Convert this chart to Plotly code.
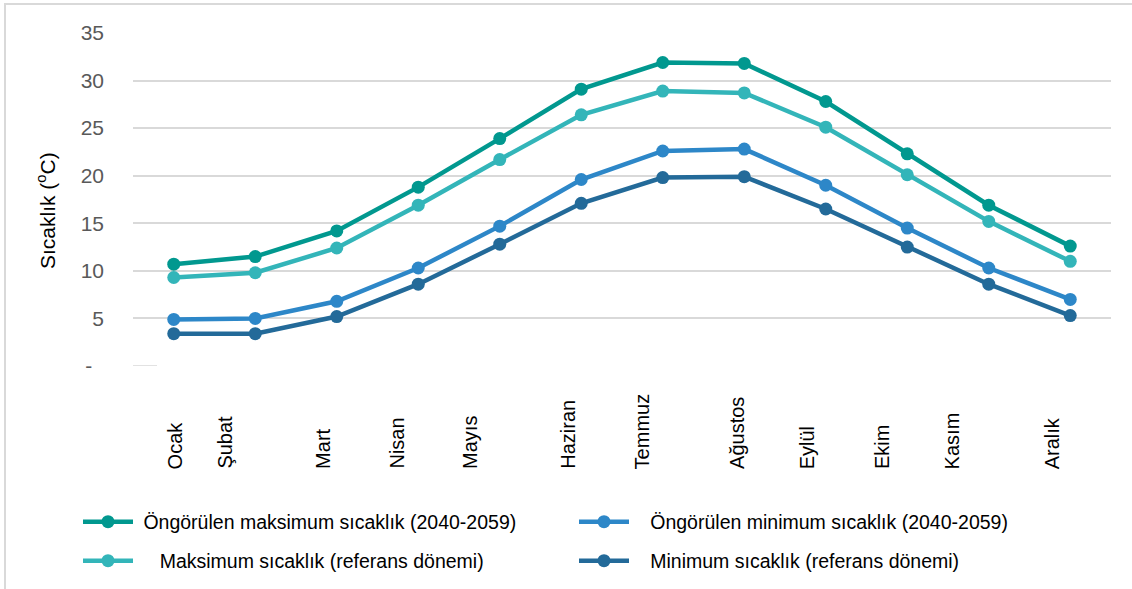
import plotly.graph_objects as go

# Monthly mean temperatures (°C)
months = ["Ocak", "Şubat", "Mart", "Nisan", "Mayıs", "Haziran",
          "Temmuz", "Ağustos", "Eylül", "Ekim", "Kasım", "Aralık"]

proj_max = [10.7, 11.5, 14.2, 18.8, 23.9, 29.1, 31.9, 31.8, 27.8, 22.3, 16.9, 12.6]
proj_min = [4.9, 5.0, 6.8, 10.3, 14.7, 19.6, 22.6, 22.8, 19.0, 14.5, 10.3, 7.0]
ref_max = [9.3, 9.8, 12.4, 16.9, 21.7, 26.4, 28.9, 28.7, 25.1, 20.1, 15.2, 11.0]
ref_min = [3.4, 3.4, 5.2, 8.6, 12.8, 17.1, 19.8, 19.9, 16.5, 12.5, 8.6, 5.3]

series_names = [
    "Öngörülen maksimum sıcaklık (2040-2059)",
    "Öngörülen minimum sıcaklık (2040-2059)",
    "Maksimum sıcaklık (referans dönemi)",
    "Minimum sıcaklık (referans dönemi)",
]
series_values = [proj_max, proj_min, ref_max, ref_min]
series_colors = ["#01988f", "#2d87c8", "#33b5b9", "#236a99"]

y_ticks = [0, 5, 10, 15, 20, 25, 30, 35]
y_tick_text = ["-\u00a0\u00a0", "5", "10", "15", "20", "25", "30", "35"]

# hand-placed month label positions along the x axis (month index units)
month_label_x = [1.02, 1.63, 2.83, 3.74, 4.64, 5.84, 6.75, 7.91, 8.78, 9.69, 10.56, 11.78]

FONT = "Liberation Sans, Arial, sans-serif"
x_idx = list(range(1, len(months) + 1))

# legend entries: left edge / centre (px), and extra gap before the text
legend_ids = ["legend", "legend2", "legend3", "legend4"]
legend_pos = [(78, 522), (574, 522), (78, 561), (574, 561)]
legend_pad = [1, 3, 4, 3]

fig = go.Figure()
for name, vals, col, lg, pad in zip(series_names, series_values, series_colors,
                                    legend_ids, legend_pad):
    fig.add_trace(go.Scatter(
        x=x_idx, y=vals, name="\u00a0" * pad + name, mode="lines+markers",
        line=dict(color=col, width=4.5),
        marker=dict(color=col, size=13),
        legend=lg, showlegend=True,
    ))

W, H = 1132, 589
L, R, T, B = 133, 21, 33, 223
pw, ph = W - L - R, H - T - B


def px_x(p):
    return (p - L) / pw


def px_y(p):
    return (H - B - p) / ph


leg_layout = {}
for lg, (lx, ly) in zip(legend_ids, legend_pos):
    leg_layout[lg] = dict(
        x=px_x(lx), y=px_y(ly), xanchor="left", yanchor="middle",
        font=dict(family=FONT, size=19.5, color="#000000"),
        bgcolor="rgba(0,0,0,0)", borderwidth=0, itemwidth=50,
        visible=True,
    )

annotations = []
for name, lx in zip(months, month_label_x):
    annotations.append(dict(
        x=lx, xref="x", y=px_y(471), yref="paper",
        text=name, textangle=-90, showarrow=False,
        xanchor="center", yanchor="bottom",
        font=dict(family=FONT, size=20, color="#000000"),
    ))

# y-axis title
annotations.append(dict(
    x=px_x(46), xref="paper", y=px_y(211), yref="paper",
    text="Sıcaklık (<sup>o</sup>C)", textangle=-90, showarrow=False,
    xanchor="center", yanchor="middle",
    font=dict(family=FONT, size=21, color="#000000"),
))

shapes = [
    # outer chart frame
    dict(type="rect", xref="paper", yref="paper",
         x0=px_x(5), x1=px_x(1200), y0=px_y(700), y1=px_y(4),
         line=dict(color="#d9d9d9", width=2), layer="below"),
    # short baseline segment at zero
    dict(type="line", xref="paper", yref="y",
         x0=0, x1=px_x(157), y0=0, y1=0,
         line=dict(color="#d9d9d9", width=1.5), layer="above"),
]

fig.update_layout(
    width=W, height=H,
    margin=dict(l=L, r=R, t=T, b=B, autoexpand=False),
    paper_bgcolor="white", plot_bgcolor="white",
    font=dict(family=FONT),
    showlegend=True,
    annotations=annotations,
    shapes=shapes,
    **leg_layout,
)
fig.update_xaxes(
    range=[0.5, 12.5], showticklabels=False, showgrid=False,
    zeroline=False, showline=False, ticks="",
)
fig.update_yaxes(
    range=[0, 35], tickvals=y_ticks, ticktext=y_tick_text,
    showgrid=True, gridcolor="#d9d9d9", gridwidth=1.5,
    zeroline=True, zerolinecolor="white", zerolinewidth=3,
    showline=False, ticks="", ticklabelstandoff=28,
    tickfont=dict(family=FONT, size=21, color="#595959"),
)

fig.write_html("out.html")
